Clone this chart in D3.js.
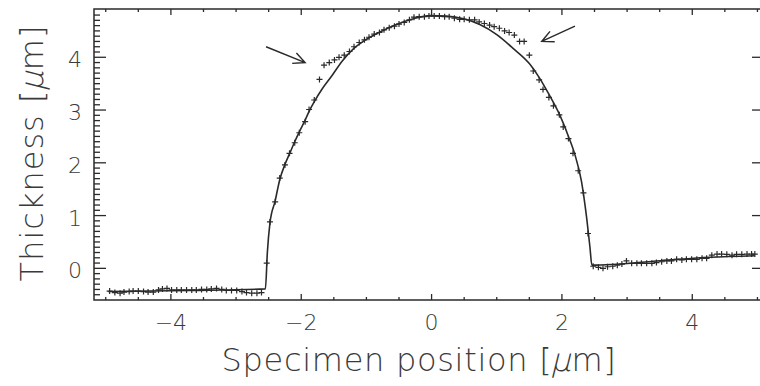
<!DOCTYPE html>
<html>
<head>
<meta charset="utf-8">
<script src="https://cdn.jsdelivr.net/npm/d3@7"></script>
<style>
body { margin: 0; background: #fff; }
text { font-family: "DejaVu Sans", "Liberation Sans", sans-serif; font-weight: 200; fill: #3a3a3a; }
</style>
</head>
<body>
<div id="chart"></div>
<script>
var svgWidth = 760;
var svgHeight = 386;

var margin = { top: 9, right: -2, bottom: 86, left: 94 };
var width = svgWidth - margin.left - margin.right;
var height = svgHeight - margin.top - margin.bottom;

// measured points (+)
var pointX = [
  -4.94, -4.86, -4.78, -4.72, -4.64, -4.58, -4.50, -4.42, -4.35, -4.27, -4.19, -4.13, -4.06, -3.99, -3.91, -3.84,
  -3.76, -3.68, -3.61, -3.53, -3.45, -3.38, -3.30, -3.22, -3.15, -3.07, -2.99, -2.91, -2.84, -2.76, -2.68, -2.61,
  -2.53, -2.48, -2.40, -2.33, -2.25, -2.18, -2.10, -2.03, -1.94, -1.88, -1.80, -1.72, -1.65, -1.57, -1.49, -1.42,
  -1.34, -1.26, -1.19, -1.11, -1.03, -0.96, -0.88, -0.80, -0.73, -0.65, -0.57, -0.50, -0.42, -0.34, -0.27, -0.19,
  -0.11, -0.04, 0.04, 0.12, 0.20, 0.27, 0.35, 0.43, 0.50, 0.58, 0.66, 0.73, 0.81, 0.89, 0.96, 1.04,
  1.12, 1.19, 1.27, 1.35, 1.42, 1.50, 1.56, 1.65, 1.71, 1.80, 1.87, 1.96, 2.02, 2.10, 2.17, 2.25,
  2.33, 2.40, 2.48, 2.56, 2.63, 2.70, 2.78, 2.85, 2.92, 2.99, 3.07, 3.15, 3.22, 3.30, 3.38, 3.45,
  3.53, 3.61, 3.68, 3.76, 3.84, 3.91, 3.99, 4.07, 4.15, 4.22, 4.30, 4.38, 4.45, 4.53, 4.61, 4.68,
  4.76, 4.84, 4.91, 4.96
];
var pointY = [
  -0.43, -0.46, -0.47, -0.45, -0.44, -0.43, -0.43, -0.44, -0.45, -0.45, -0.41, -0.39, -0.38, -0.41, -0.41, -0.41,
  -0.41, -0.41, -0.41, -0.40, -0.40, -0.39, -0.38, -0.40, -0.42, -0.42, -0.42, -0.44, -0.46, -0.47, -0.47, -0.46,
  0.10, 0.88, 1.26, 1.71, 1.96, 2.18, 2.38, 2.57, 2.78, 3.01, 3.19, 3.58, 3.85, 3.90, 3.95, 4.00,
  4.04, 4.11, 4.20, 4.28, 4.33, 4.38, 4.44, 4.47, 4.52, 4.56, 4.59, 4.63, 4.66, 4.71, 4.76, 4.77,
  4.77, 4.78, 4.78, 4.78, 4.77, 4.77, 4.74, 4.72, 4.72, 4.71, 4.71, 4.67, 4.64, 4.61, 4.58, 4.55,
  4.50, 4.47, 4.42, 4.30, 4.30, 4.04, 3.74, 3.57, 3.39, 3.24, 3.08, 2.91, 2.68, 2.46, 2.18, 1.85,
  1.43, 0.66, 0.04, 0.02, 0.00, 0.03, 0.04, 0.06, 0.08, 0.14, 0.095, 0.095, 0.095, 0.095, 0.095, 0.11,
  0.125, 0.14, 0.14, 0.17, 0.16, 0.17, 0.17, 0.17, 0.19, 0.19, 0.25, 0.27, 0.27, 0.265, 0.25, 0.265,
  0.265, 0.27, 0.27, 0.27
];

// fitted profile (solid line)
var fitX = [-4.96, -3.70, -2.55, -2.52, -2.48, -2.40, -2.33, -2.25, -2.17, -2.10, -2.02, -1.94, -1.87, -1.79,
  -1.69, -1.53, -1.37, -1.20, -1.05, -0.79, -0.54, -0.28, -0.02, 0.23, 0.49, 0.74, 1.00, 1.25, 1.50, 1.65,
  1.80, 1.95, 2.10, 2.20, 2.30, 2.38, 2.43, 2.46, 3.51, 4.27, 4.96];
var fitY = [-0.44, -0.42, -0.39, 0.30, 0.86, 1.28, 1.68, 1.97, 2.20, 2.40, 2.61, 2.81, 3.00, 3.18,
  3.38, 3.65, 3.93, 4.16, 4.30, 4.48, 4.62, 4.73, 4.79, 4.78, 4.73, 4.62, 4.43, 4.17, 3.88, 3.62,
  3.30, 2.95, 2.50, 2.15, 1.65, 0.95, 0.40, 0.06, 0.145, 0.21, 0.24];

var xMajor = [-4, -2, 0, 2, 4];
var xMinor = [-5, -4.5, -3.5, -3, -2.5, -1.5, -1, -0.5, 0.5, 1, 1.5, 2.5, 3, 3.5, 4.5, 5];
var yMajor = [0, 1, 2, 3, 4];

// arrows: [tailX, tailY, tipX, tipY]
var arrows = [[-2.54, 4.20, -1.94, 3.90], [2.20, 4.59, 1.69, 4.30]];

var svg = d3.select("#chart")
  .append("svg")
  .attr("width", svgWidth)
  .attr("height", svgHeight);

var chartGroup = svg.append("g")
  .attr("transform", `translate(${margin.left}, ${margin.top})`);

var xScale = d3.scaleLinear().domain([-5.18, 5.07]).range([0, width]);
var yScale = d3.scaleLinear().domain([-0.60, 4.915]).range([height, 0]);

var ink = "#2a2a2a";

// minor y ticks every 0.1
var yMinor = d3.range(-5, 49).map(d => d / 10).filter(d => Math.abs(d * 10) % 10 !== 0);

// tick marks, drawn inward from each side of the box
function ticks(vals, side, len) {
  chartGroup.append("g").selectAll("line")
    .data(vals)
    .enter()
    .append("line")
    .attr("x1", d => side == "left" ? 0 : side == "right" ? width : xScale(d))
    .attr("x2", d => side == "left" ? len : side == "right" ? width - len : xScale(d))
    .attr("y1", d => side == "top" ? 0 : side == "bottom" ? height : yScale(d))
    .attr("y2", d => side == "top" ? len : side == "bottom" ? height - len : yScale(d))
    .attr("stroke", ink)
    .attr("stroke-width", 1.3);
}
ticks(xMajor, "bottom", 6);
ticks(xMinor, "bottom", 3);
ticks(xMajor, "top", 6);
ticks(xMinor, "top", 3);
ticks(yMajor, "left", 12);
ticks(yMinor, "left", 6);
ticks(yMajor, "right", 10);

// tick labels
chartGroup.append("g").selectAll("text")
  .data(xMajor)
  .enter()
  .append("text")
  .attr("x", d => xScale(d))
  .attr("y", height + 30)
  .attr("text-anchor", "middle")
  .style("font-size", "22px")
  .text(d => d < 0 ? "\u2212" + Math.abs(d) : d);

chartGroup.append("g").selectAll("text")
  .data(yMajor)
  .enter()
  .append("text")
  .attr("x", -12)
  .attr("y", d => yScale(d) + 10)
  .attr("text-anchor", "end")
  .style("font-size", "22px")
  .text(d => d);

// frame
chartGroup.append("rect")
  .attr("width", width)
  .attr("height", height)
  .attr("fill", "none")
  .attr("stroke", ink)
  .attr("stroke-width", 1.5);

// fitted line
var line = d3.line()
  .x(d => xScale(d[0]))
  .y(d => yScale(d[1]))
  .curve(d3.curveMonotoneX);

chartGroup.append("path")
  .datum(fitX.map((d, i) => [d, fitY[i]]))
  .attr("d", line)
  .attr("fill", "none")
  .attr("stroke", ink)
  .attr("stroke-width", 1.6);

// + markers
chartGroup.selectAll(".pt")
  .data(pointX.map((d, i) => [d, pointY[i]]))
  .enter()
  .append("path")
  .attr("class", "pt")
  .attr("transform", d => `translate(${xScale(d[0])}, ${yScale(d[1])})`)
  .attr("d", "M-3,0H3M0,-3V3")
  .attr("stroke", ink)
  .attr("stroke-width", 1.2);

// arrows
arrows.forEach(function(a) {
  var x1 = xScale(a[0]), y1 = yScale(a[1]), x2 = xScale(a[2]), y2 = yScale(a[3]);
  var ang = Math.atan2(y2 - y1, x2 - x1);
  var len = 13, spread = 0.45;
  var p = `M${x1},${y1}L${x2},${y2}` +
    `M${x2 - len * Math.cos(ang - spread)},${y2 - len * Math.sin(ang - spread)}L${x2},${y2}` +
    `L${x2 - len * Math.cos(ang + spread)},${y2 - len * Math.sin(ang + spread)}`;
  chartGroup.append("path")
    .attr("d", p)
    .attr("fill", "none")
    .attr("stroke", ink)
    .attr("stroke-width", 1.4);
});

// axis titles: pieces laid out side by side, the mu slanted by hand so it stays thin
function title(transform, parts, spacing) {
  var g = svg.append("g").attr("transform", transform);
  var pieces = parts.map(function(p) {
    var t = g.append("text")
      .style("font-size", "32px")
      .style("letter-spacing", spacing + "px")
      .text(p[0]);
    return [t, t.node().getComputedTextLength(), p[1]];
  });
  var total = d3.sum(pieces, d => d[1]);
  var x = -total / 2;
  pieces.forEach(function(p) {
    p[0].attr("transform", p[2] ? `translate(${x - 2}, 0) skewX(-14)` : `translate(${x}, 0)`);
    x += p[2] ? p[1] - 2 : p[1];
  });
}
title("translate(420, 371)", [["Specimen position [", false], ["\u00b5", true], ["m]", false]], 0.7);
title("translate(43, 152) rotate(-90)", [["Thickness [", false], ["\u00b5", true], ["m]", false]], 1);
</script>
</body>
</html>
